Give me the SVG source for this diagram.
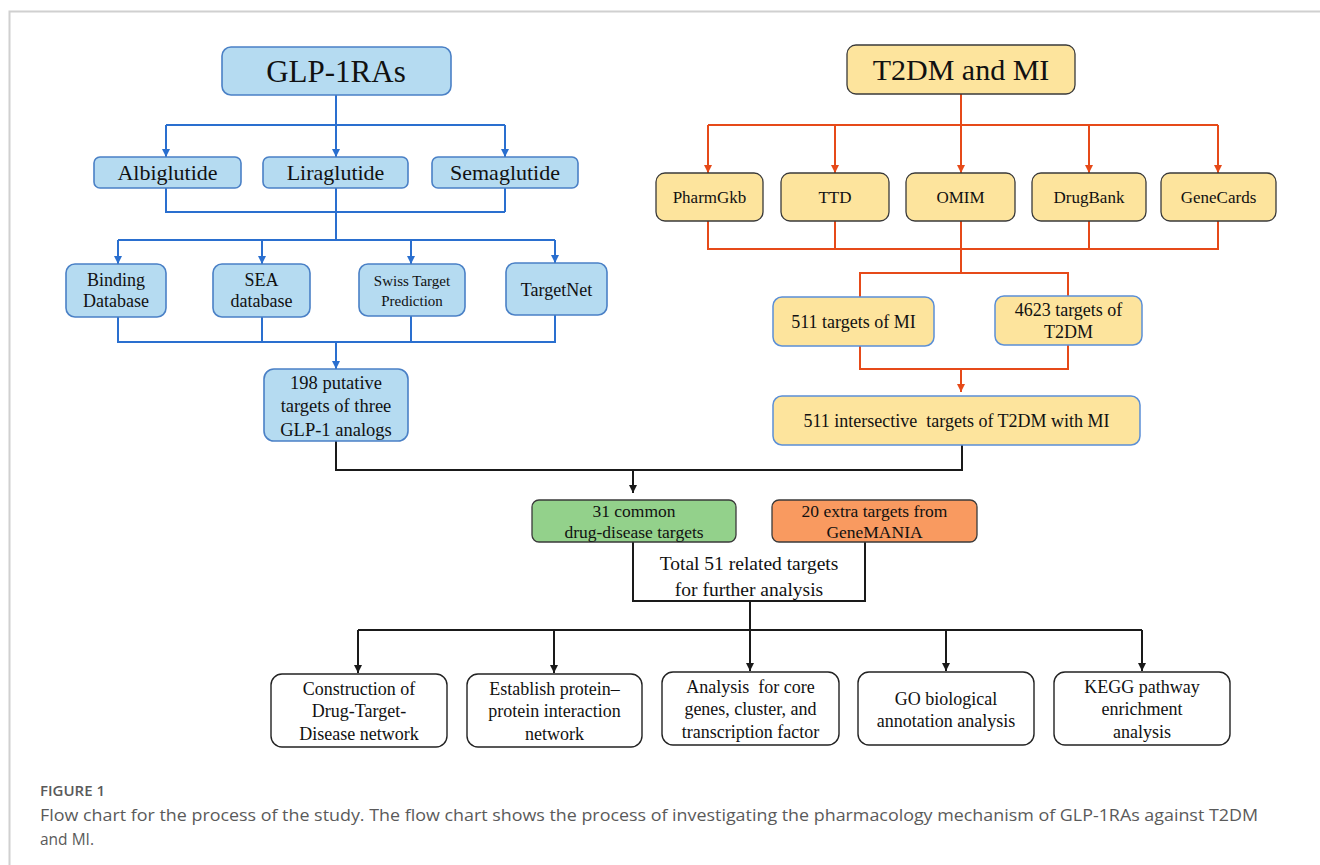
<svg xmlns="http://www.w3.org/2000/svg" width="1320" height="865" viewBox="0 0 1320 865">
<style>
.t{font-family:"Liberation Serif","Times New Roman",serif;fill:#111;text-anchor:middle}
.blue{fill:#b5dbf1;stroke:#4a80c6;stroke-width:1.6}
.yel{fill:#fde49d;stroke:#3a3a3a;stroke-width:1.3}
.yelb{fill:#fde49d;stroke:#5b8fd6;stroke-width:1.5}
.wht{fill:#fff;stroke:#222;stroke-width:1.4}
.cb{fill:none;stroke:#2a6fcf;stroke-width:2}
.co{fill:none;stroke:#e64a19;stroke-width:2}
.ck{fill:none;stroke:#1a1a1a;stroke-width:2}
.cap{font-family:"Open Sans","Liberation Sans",sans-serif;fill:#5a5a5a}
</style>
<defs>
<marker id="ab" markerUnits="userSpaceOnUse" markerWidth="10" markerHeight="10" refX="8" refY="4" orient="auto"><path d="M0,0 L8,4 L0,8 z" fill="#2a6fcf"/></marker>
<marker id="ao" markerUnits="userSpaceOnUse" markerWidth="10" markerHeight="10" refX="8" refY="4" orient="auto"><path d="M0,0 L8,4 L0,8 z" fill="#e64a19"/></marker>
<marker id="ak" markerUnits="userSpaceOnUse" markerWidth="10" markerHeight="10" refX="8" refY="4" orient="auto"><path d="M0,0 L8,4 L0,8 z" fill="#1a1a1a"/></marker>
</defs>
<rect width="1320" height="865" fill="#fff"/>
<path d="M9.5,865 V11.5 H1320" fill="none" stroke="#d0d0d0" stroke-width="2"/>

<g id="connectors">
<!-- blue -->
<path class="cb" d="M336,95 V125 M166,125 H505"/>
<path class="cb" d="M166,125 V157" marker-end="url(#ab)"/>
<path class="cb" d="M336,125 V157" marker-end="url(#ab)"/>
<path class="cb" d="M505,125 V157" marker-end="url(#ab)"/>
<path class="cb" d="M166,188 V212 H505 M336,188 V212 M505,188 V212 M336,212 V240 M118,240 H555"/>
<path class="cb" d="M118,240 V264" marker-end="url(#ab)"/>
<path class="cb" d="M262,240 V264" marker-end="url(#ab)"/>
<path class="cb" d="M411,240 V264" marker-end="url(#ab)"/>
<path class="cb" d="M555,240 V263" marker-end="url(#ab)"/>
<path class="cb" d="M118,317 V342 H555 V315 M262,317 V342 M411,316 V342"/>
<path class="cb" d="M336,342 V369" marker-end="url(#ab)"/>
<!-- orange -->
<path class="co" d="M961,94 V125 M708,125 H1218"/>
<path class="co" d="M708,125 V173" marker-end="url(#ao)"/>
<path class="co" d="M835,125 V173" marker-end="url(#ao)"/>
<path class="co" d="M961,125 V173" marker-end="url(#ao)"/>
<path class="co" d="M1089,125 V173" marker-end="url(#ao)"/>
<path class="co" d="M1218,125 V173" marker-end="url(#ao)"/>
<path class="co" d="M708,221 V249 H1218 V221 M835,221 V249 M961,221 V273 M1089,221 V249 M860,297 V273 H1068 V296"/>
<path class="co" d="M860,346 V369 H1068 V345"/>
<path class="co" d="M961,369 V392" marker-end="url(#ao)"/>
<!-- black -->
<path class="ck" d="M336,441 V470 H962 V445"/>
<path class="ck" d="M633,470 V493" marker-end="url(#ak)"/>
<path class="ck" d="M633,542 V601 H865 V542 M750,601 V630 M358,630 H1142"/>
<path class="ck" d="M358,630 V673" marker-end="url(#ak)"/>
<path class="ck" d="M554,630 V673" marker-end="url(#ak)"/>
<path class="ck" d="M750,630 V671" marker-end="url(#ak)"/>
<path class="ck" d="M946,630 V671" marker-end="url(#ak)"/>
<path class="ck" d="M1142,630 V671" marker-end="url(#ak)"/>
</g>

<g id="glp1ras"><rect class="blue" x="222" y="47" width="229" height="48" rx="9"/><text class="t" x="336" y="82" font-size="31">GLP-1RAs</text></g>
<g id="albiglutide"><rect class="blue" x="94" y="157" width="147" height="31" rx="6"/><text class="t" x="167.5" y="180" font-size="22">Albiglutide</text></g>
<g id="liraglutide"><rect class="blue" x="263" y="157" width="145" height="31" rx="6"/><text class="t" x="335.5" y="180" font-size="22">Liraglutide</text></g>
<g id="semaglutide"><rect class="blue" x="432" y="157" width="146" height="31" rx="6"/><text class="t" x="505" y="180" font-size="22">Semaglutide</text></g>

<g id="binding"><rect class="blue" x="66" y="264" width="100" height="53" rx="9"/><text class="t" x="116" y="286" font-size="18">Binding</text><text class="t" x="116" y="307" font-size="18">Database</text></g>
<g id="sea"><rect class="blue" x="213" y="264" width="97" height="53" rx="9"/><text class="t" x="261.5" y="286" font-size="18">SEA</text><text class="t" x="261.5" y="307" font-size="18">database</text></g>
<g id="swiss"><rect class="blue" x="359" y="264" width="106" height="52" rx="9"/><text class="t" x="412" y="286" font-size="15">Swiss  Target</text><text class="t" x="412" y="306" font-size="15">Prediction</text></g>
<g id="targetnet"><rect class="blue" x="506" y="263" width="101" height="52" rx="9"/><text class="t" x="556.5" y="296" font-size="18">TargetNet</text></g>
<g id="putative"><rect class="blue" x="264" y="369" width="144" height="72" rx="10"/><text class="t" x="336" y="389" font-size="18.5">198 putative</text><text class="t" x="336" y="412" font-size="18.5">targets of three</text><text class="t" x="336" y="436" font-size="18.5">GLP-1 analogs</text></g>

<g id="t2dm-mi"><rect class="yel" x="847" y="45" width="228" height="49" rx="9"/><text class="t" x="961" y="80" font-size="30">T2DM and MI</text></g>
<g id="pharmgkb"><rect class="yel" x="656" y="173" width="107" height="48" rx="9"/><text class="t" x="709.5" y="203" font-size="17">PharmGkb</text></g>
<g id="ttd"><rect class="yel" x="781" y="173" width="108" height="48" rx="9"/><text class="t" x="835" y="203" font-size="17">TTD</text></g>
<g id="omim"><rect class="yel" x="906" y="173" width="109" height="48" rx="9"/><text class="t" x="960.5" y="203" font-size="17">OMIM</text></g>
<g id="drugbank"><rect class="yel" x="1032" y="173" width="114" height="48" rx="9"/><text class="t" x="1089" y="203" font-size="17">DrugBank</text></g>
<g id="genecards"><rect class="yel" x="1161" y="173" width="115" height="48" rx="9"/><text class="t" x="1218.5" y="203" font-size="17">GeneCards</text></g>
<g id="mi-targets"><rect class="yelb" x="773" y="297" width="161" height="49" rx="9"/><text class="t" x="853.5" y="328" font-size="18">511 targets of MI</text></g>
<g id="t2dm-targets"><rect class="yelb" x="995" y="296" width="147" height="49" rx="9"/><text class="t" x="1068.5" y="316" font-size="18">4623 targets of</text><text class="t" x="1068.5" y="338" font-size="18">T2DM</text></g>
<g id="intersective"><rect class="yelb" x="773" y="396" width="367" height="49" rx="9"/><text class="t" x="956.5" y="427" font-size="18" xml:space="preserve">511 intersective  targets of T2DM with MI</text></g>

<g id="common"><rect x="532" y="500" width="204" height="42" rx="7" fill="#93d18b" stroke="#3a3a3a" stroke-width="1.3"/><text class="t" x="634" y="517" font-size="17.5">31 common</text><text class="t" x="634" y="538" font-size="17.5">drug-disease targets</text></g>
<g id="genemania"><rect x="772" y="500" width="205" height="42" rx="7" fill="#f99a60" stroke="#3a3a3a" stroke-width="1.3"/><text class="t" x="874.5" y="517" font-size="17.5">20 extra targets from</text><text class="t" x="874.5" y="538" font-size="17.5">GeneMANIA</text></g>
<g id="total"><text class="t" x="749" y="570" font-size="19.5">Total 51 related targets</text><text class="t" x="749" y="596" font-size="19.5">for further analysis</text></g>

<g id="dtd"><rect class="wht" x="271" y="674" width="176" height="73" rx="11"/><text class="t" x="359" y="695" font-size="18">Construction of</text><text class="t" x="359" y="717" font-size="18">Drug-Target-</text><text class="t" x="359" y="740" font-size="18">Disease network</text></g>
<g id="ppi"><rect class="wht" x="467" y="674" width="175" height="73" rx="11"/><text class="t" x="554.5" y="695" font-size="18">Establish protein–</text><text class="t" x="554.5" y="717" font-size="18">protein interaction</text><text class="t" x="554.5" y="740" font-size="18">network</text></g>
<g id="core"><rect class="wht" x="662" y="672" width="177" height="73" rx="11"/><text class="t" x="750.5" y="693" font-size="18" xml:space="preserve">Analysis  for core</text><text class="t" x="750.5" y="715" font-size="18">genes, cluster, and</text><text class="t" x="750.5" y="738" font-size="18">transcription factor</text></g>
<g id="go"><rect class="wht" x="858" y="672" width="176" height="73" rx="11"/><text class="t" x="946" y="705" font-size="18">GO biological</text><text class="t" x="946" y="727" font-size="18">annotation analysis</text></g>
<g id="kegg"><rect class="wht" x="1054" y="672" width="176" height="73" rx="11"/><text class="t" x="1142" y="693" font-size="18">KEGG pathway</text><text class="t" x="1142" y="715" font-size="18">enrichment</text><text class="t" x="1142" y="738" font-size="18">analysis</text></g>

<g id="caption">
<text class="cap" x="40" y="796" font-size="15" font-weight="600" fill="#666">FIGURE 1</text>
<text class="cap" x="40" y="821" font-size="15.5" textLength="1218" lengthAdjust="spacingAndGlyphs">Flow chart for the process of the study. The flow chart shows the process of investigating the pharmacology mechanism of GLP-1RAs against T2DM</text>
<text class="cap" x="40" y="845" font-size="15.5">and MI.</text>
</g>
</svg>
